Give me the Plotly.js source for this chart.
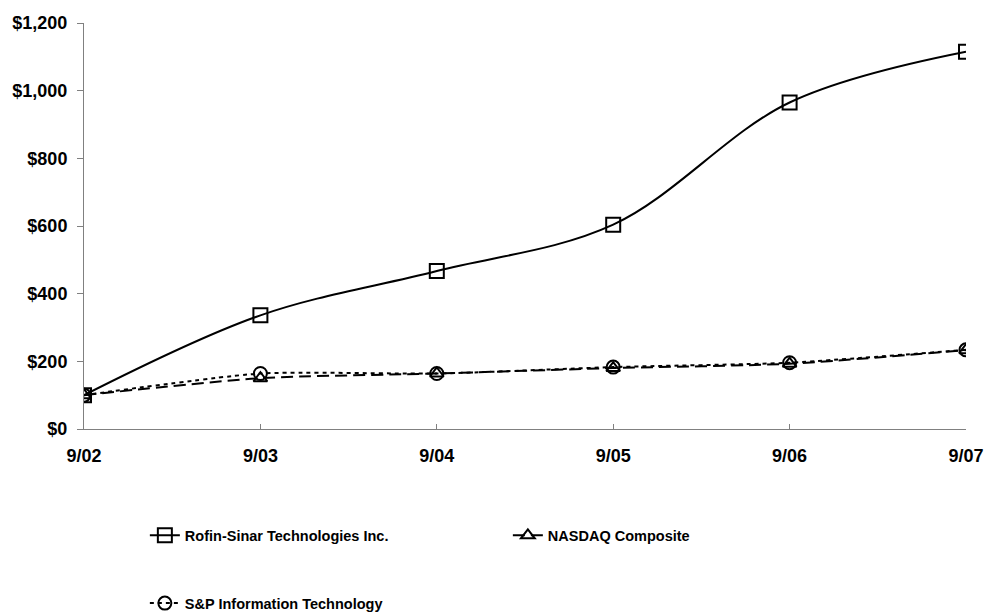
<!DOCTYPE html>
<html>
<head>
<meta charset="utf-8">
<script src="https://cdn.plot.ly/plotly-3.0.1.min.js"></script>
<style>html,body{margin:0;padding:0;background:#fff;}#chart{width:986px;height:615px;}</style>
</head>
<body>
<div id="chart"></div>
<script>
var categories = ["9/02", "9/03", "9/04", "9/05", "9/06", "9/07"];
var rofin = [100, 336, 467, 604, 965, 1115];
var nasdaq = [100, 150, 164, 180, 193, 233];
var spit = [100, 164, 164, 183, 196, 234];
var yTicks = [0, 200, 400, 600, 800, 1000, 1200];
var yTickText = ["$0", "$200", "$400", "$600", "$800", "$1,000", "$1,200"];

var FONT = "Liberation Sans, Arial, sans-serif";
var TICK_FS = 18;
var LEG_FS = 14.5;

var traces = [
  {
    x: categories, y: rofin, name: "Rofin-Sinar Technologies Inc.",
    type: "scatter", mode: "lines+markers",
    line: {color: "#000", width: 2, shape: "spline", smoothing: 1},
    marker: {symbol: "square-open", size: 14, color: "#000", line: {width: 2, color: "#000"}},
    legend: "legend"
  },
  {
    x: categories, y: nasdaq, name: "NASDAQ Composite",
    type: "scatter", mode: "lines+markers",
    line: {color: "#000", width: 2, dash: "12px,6px", shape: "spline", smoothing: 0.7},
    marker: {symbol: "triangle-up-open", size: 12, color: "#000", line: {width: 2, color: "#000"}},
    legend: "legend"
  },
  {
    x: categories, y: spit, name: "S&P Information Technology",
    type: "scatter", mode: "lines+markers",
    line: {color: "#000", width: 2, dash: "4px,4px", shape: "spline", smoothing: 0.6},
    marker: {symbol: "circle-open", size: 13, color: "#000", line: {width: 2, color: "#000"}},
    legend: "legend2"
  }
];

var layout = {
  width: 986, height: 615,
  margin: {l: 84, r: 20, t: 23, b: 186, autoexpand: false},
  paper_bgcolor: "#fff", plot_bgcolor: "#fff",
  font: {family: FONT, size: LEG_FS, color: "#000"},
  showlegend: true,
  xaxis: {
    type: "category", range: [0, 5],
    showgrid: false, zeroline: false,
    showline: true, linecolor: "#808080", linewidth: 1,
    ticks: "inside", ticklen: 5, tickcolor: "#808080",
    ticklabelstandoff: 10,
    tickfont: {family: FONT, size: TICK_FS, color: "#000", weight: "bold"},
    fixedrange: true
  },
  yaxis: {
    range: [0, 1200], tickvals: yTicks, ticktext: yTickText,
    showgrid: false, zeroline: false,
    showline: true, linecolor: "#808080", linewidth: 1,
    ticks: "outside", ticklen: 6, tickcolor: "#808080",
    ticklabelstandoff: 6,
    tickfont: {family: FONT, size: TICK_FS, color: "#000", weight: "bold"},
    fixedrange: true
  },
  legend: {
    orientation: "h", x: 0.069, xanchor: "left", y: -0.262, yanchor: "middle",
    entrywidth: 318, entrywidthmode: "pixels",
    font: {family: FONT, size: LEG_FS, color: "#000", weight: "bold"},
    bgcolor: "rgba(0,0,0,0)", borderwidth: 0
  },
  legend2: {
    orientation: "h", x: 0.069, xanchor: "left", y: -0.429, yanchor: "middle",
    font: {family: FONT, size: LEG_FS, color: "#000", weight: "bold"},
    bgcolor: "rgba(0,0,0,0)", borderwidth: 0
  }
};

Plotly.newPlot("chart", traces, layout, {displayModeBar: false, staticPlot: true});
</script>
</body>
</html>
